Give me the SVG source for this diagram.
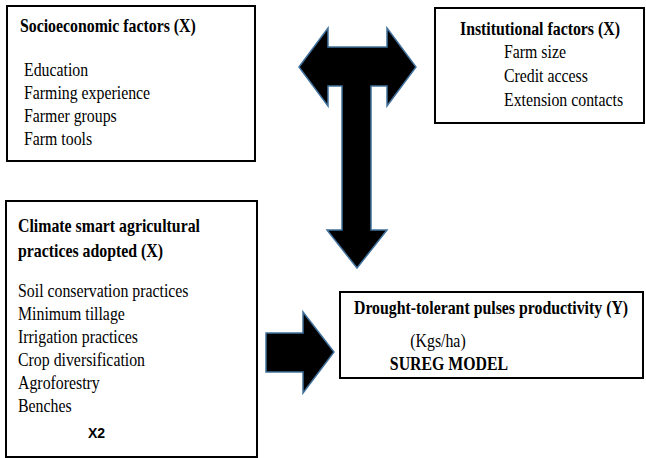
<svg xmlns="http://www.w3.org/2000/svg" width="646" height="458" viewBox="0 0 646 458">
<style>
.box{fill:#fff;stroke:#000;stroke-width:2}
text{font-family:"Liberation Serif","Times New Roman",serif;font-size:18px;fill:#000}
.b{font-weight:bold}
.x2{font-family:"Liberation Sans",Arial,sans-serif;font-weight:bold;font-size:14px}
.arrow{fill:#000;stroke:#41719c;stroke-width:1.5;stroke-linejoin:miter}
</style>
<rect width="646" height="458" fill="#fff"/>
<g id="connectors">
<polygon class="arrow" points="299,67 328,28 328,47 387,47 387,28 416,67 387,106 387,86 371,86 371,230 387,230 357,268 327,230 342,230 342,86 328,86 328,106"/>
<polygon class="arrow" points="266,333 303,333 303,312 334,352 303,393 303,372 266,372"/>
</g>
<g id="socioeconomic">
<rect class="box" x="7" y="6" width="248" height="155"/>
<g transform="scale(0.88,1)">
<text class="b" x="22.7" y="32">Socioeconomic factors (X)</text>
<text x="27.3" y="76">Education</text>
<text x="27.3" y="99">Farming experience</text>
<text x="27.3" y="122">Farmer groups</text>
<text x="27.3" y="145">Farm tools</text>
</g>
</g>
<g id="institutional">
<rect class="box" x="435" y="8" width="209" height="115"/>
<g transform="scale(0.88,1)">
<text class="b" x="522.7" y="35">Institutional factors (X)</text>
<text x="572.7" y="58">Farm size</text>
<text x="572.7" y="82">Credit access</text>
<text x="572.7" y="106">Extension contacts</text>
</g>
</g>
<g id="csa">
<rect class="box" x="6" y="201" width="251" height="256"/>
<g transform="scale(0.88,1)">
<text class="b" x="20.5" y="232">Climate smart agricultural</text>
<text class="b" x="20.5" y="257">practices adopted (X)</text>
<text x="20.5" y="297">Soil conservation practices</text>
<text x="20.5" y="320">Minimum tillage</text>
<text x="20.5" y="343">Irrigation practices</text>
<text x="20.5" y="366">Crop diversification</text>
<text x="20.5" y="389">Agroforestry</text>
<text x="20.5" y="412">Benches</text>
</g>
<text class="x2" x="88" y="438">X2</text>
</g>
<g id="productivity">
<rect class="box" x="340" y="292" width="303" height="86"/>
<g transform="scale(0.88,1)">
<text class="b" x="558" y="314" text-anchor="middle">Drought-tolerant pulses productivity (Y)</text>
<text x="497.7" y="347" text-anchor="middle">(Kgs/ha)</text>
<text class="b" x="510.2" y="370" text-anchor="middle">SUREG MODEL</text>
</g>
</g>
</svg>
